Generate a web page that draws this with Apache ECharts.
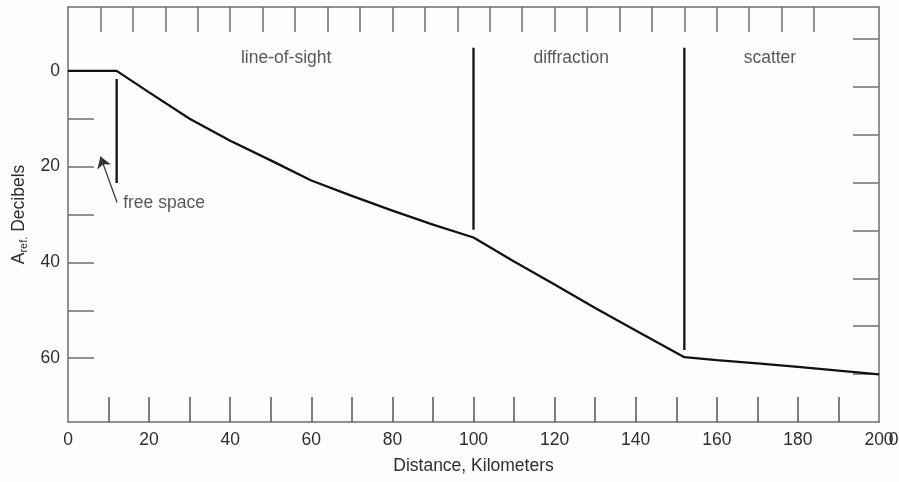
<!DOCTYPE html>
<html>
<head>
<meta charset="utf-8">
<title>Reference attenuation vs distance</title>
<script src="https://cdn.jsdelivr.net/npm/echarts@6/dist/echarts.min.js"></script>
<style>
  html, body { margin: 0; padding: 0; background: #fdfdfd; }
  #chart { width: 899px; height: 482px; }
</style>
</head>
<body>
<div id="chart"></div>
<script>
// Attenuation curve: distance (km) vs A_ref (dB)
const distanceKm = [0, 12, 20, 30, 40, 50, 60, 70, 80, 90, 100, 110, 120, 130, 140, 152, 160, 170, 180, 190, 200];
const attenuationDb = [0, 0, 4.5, 10, 14.6, 18.7, 22.9, 26.1, 29.2, 32.1, 34.8, 39.8, 44.6, 49.5, 54.2, 59.8, 60.4, 61.1, 61.8, 62.6, 63.4];

// Region boundaries (vertical bars): x position and vertical extent in dB
const boundaryX = [12, 100, 152];
const boundaryTop = [1.7, -4.8, -4.8];
const boundaryBottom = [23.4, 33.2, 58.3];

// Region names placed above the curve
const regionNames = ['line-of-sight', 'diffraction', 'scatter'];
const regionX = [53.8, 124.1, 173.1];
const regionY = [-2.7, -2.7, -2.7];

// "free space" note and its arrow
const noteText = 'free space';
const notePos = [13.6, 27.6];
const arrowFrom = [12.1, 27.5];
const arrowTo = [8.0, 17.9];

// Axis ticks and labels
const xLabelValues = [0, 20, 40, 60, 80, 100, 120, 140, 160, 180, 200];
const xTickValues = [10, 20, 30, 40, 50, 60, 70, 80, 90, 100, 110, 120, 130, 140, 150, 160, 170, 180, 190];
const topTickValues = [8, 16, 24, 32, 40, 48, 56, 64, 72, 80, 88, 96, 104, 112, 120, 128, 136, 144, 152, 160, 168, 176, 184];
const yLabelValues = [0, 20, 40, 60];
const yTickValues = [0, 10, 20, 30, 40, 50, 60];
const rightTickValues = [-6.67, 3.33, 13.33, 23.33, 33.33, 43.33, 53.33, 63.33];

const X_MIN = 0, X_MAX = 200, Y_MIN = -13.33, Y_MAX = 73.33;

const FONT = 'Liberation Sans, Arial, sans-serif';
const TEXT = '#2e2e2e';
const AXIS = '#6e6e6e';

const chart = echarts.init(document.getElementById('chart'), null, { renderer: 'canvas' });

const boundarySeries = boundaryX.map((x, i) => ({
  type: 'line',
  data: [[x, boundaryTop[i]], [x, boundaryBottom[i]]],
  symbol: 'none',
  silent: true,
  lineStyle: { color: '#111', width: 2.3 },
  z: 4
}));

const axisLineStyle = { show: true, onZero: false, lineStyle: { color: AXIS, width: 1.5 } };

const option = {
  backgroundColor: '#fdfdfd',
  animation: false,
  grid: { left: 68, right: 20, top: 7, bottom: 60, outerBoundsMode: 'none' },
  xAxis: [
    {
      type: 'value', position: 'bottom', min: X_MIN, max: X_MAX,
      axisLine: axisLineStyle,
      splitLine: { show: false },
      axisTick: { show: true, inside: true, length: 25, customValues: xTickValues, lineStyle: { color: '#555', width: 1.5 } },
      axisLabel: {
        customValues: xLabelValues, margin: 9, color: TEXT, fontSize: 17.5, fontFamily: FONT,
        formatter: v => (v === 200 ? '{n|200}{z|0}' : String(v)),
        rich: {
          n: { fontSize: 17.5, fontFamily: FONT, color: TEXT },
          z: { fontSize: 17.5, fontFamily: FONT, color: TEXT, width: 0 }
        }
      },
      name: 'Distance, Kilometers', nameLocation: 'middle', nameGap: 35,
      nameTextStyle: { color: TEXT, fontSize: 17.5, fontFamily: FONT }
    },
    {
      type: 'value', position: 'top', min: X_MIN, max: X_MAX,
      axisLine: axisLineStyle,
      splitLine: { show: false },
      axisTick: { show: true, inside: true, length: 25, customValues: topTickValues, lineStyle: { color: AXIS, width: 1.5 } },
      axisLabel: { show: false }
    }
  ],
  yAxis: [
    {
      type: 'value', position: 'left', inverse: true, min: Y_MIN, max: Y_MAX,
      axisLine: axisLineStyle,
      splitLine: { show: false },
      axisTick: { show: true, inside: true, length: 26, customValues: yTickValues, lineStyle: { color: AXIS, width: 1.5 } },
      axisLabel: { customValues: yLabelValues, margin: 8, color: TEXT, fontSize: 17.5, fontFamily: FONT },
      name: '{a|A}{s|ref.}{a| Decibels}', nameLocation: 'middle', nameGap: 38, nameRotate: 90,
      nameTextStyle: {
        color: TEXT, fontSize: 17.5, fontFamily: FONT,
        rich: {
          a: { fontSize: 17.5, fontFamily: FONT, color: TEXT, lineHeight: 22 },
          s: { fontSize: 11, fontFamily: FONT, color: TEXT, lineHeight: 22, padding: [9, 0, 0, 0] }
        }
      }
    },
    {
      type: 'value', position: 'right', inverse: true, min: Y_MIN, max: Y_MAX,
      axisLine: axisLineStyle,
      splitLine: { show: false },
      axisTick: { show: true, inside: true, length: 26, customValues: rightTickValues, lineStyle: { color: AXIS, width: 1.5 } },
      axisLabel: { show: false }
    }
  ],
  series: [
    {
      type: 'line',
      data: distanceKm.map((d, i) => [d, attenuationDb[i]]),
      symbol: 'none',
      silent: true,
      lineStyle: { color: '#111', width: 2.3 },
      z: 5
    },
    ...boundarySeries,
    {
      type: 'scatter',
      data: regionNames.map((n, i) => ({ name: n, value: [regionX[i], regionY[i]] })),
      symbolSize: 0,
      silent: true,
      label: {
        show: true, position: 'inside', formatter: p => p.name,
        color: TEXT, fontSize: 17.5, fontFamily: FONT
      }
    },
    {
      type: 'scatter',
      data: [{ name: noteText, value: notePos }],
      symbolSize: 0,
      silent: true,
      label: {
        show: true, position: 'right', distance: 0, formatter: p => p.name,
        color: TEXT, fontSize: 17.5, fontFamily: FONT
      }
    },
    {
      type: 'lines',
      coordinateSystem: 'cartesian2d',
      silent: true,
      symbol: ['none', 'arrow'],
      symbolSize: [8, 11],
      lineStyle: { color: '#333', width: 1.2, opacity: 1 },
      data: [{ coords: [arrowFrom, arrowTo] }],
      z: 5
    }
  ]
};

chart.setOption(option);
</script>
</body>
</html>
